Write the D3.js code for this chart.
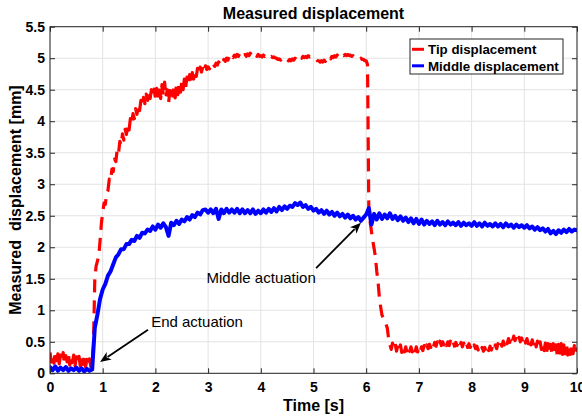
<!DOCTYPE html>
<html>
<head>
<meta charset="utf-8">
<script src="https://cdn.jsdelivr.net/npm/d3@7/dist/d3.min.js"></script>
<style>
  body { margin: 0; background: #fff; }
  svg { display: block; }
</style>
</head>
<body>
<svg id="chart" width="582" height="419"></svg>
<script>
// Sampling intervals of the recorded signals [s]
const tipSampleStep = 0.025;
const middleSampleStep = 0.05;

// Tip displacement [mm], one value per sample from 0 s to 10 s
const tipDisplacement = [
  0.33,0.18,0.30,0.16,0.35,0.20,0.31,0.15,0.29,0.19,0.33,0.14,0.28,0.18,0.30,0.13,0.27,0.17,0.29,0.12,
  0.26,0.16,0.27,0.11,0.24,0.14,0.25,0.10,0.22,0.13,0.23,0.10,0.16,0.45,1.50,1.70,1.78,1.86,2.10,2.38,
  2.55,2.70,2.68,2.86,2.90,3.08,3.05,3.24,3.20,3.40,3.36,3.55,3.49,3.68,3.62,3.80,3.70,3.87,3.79,3.95,
  3.86,4.04,3.96,4.12,4.04,4.20,4.11,4.26,4.17,4.33,4.24,4.38,4.28,4.43,4.33,4.47,4.36,4.50,4.39,4.51,
  4.37,4.52,4.40,4.55,4.36,4.58,4.42,4.62,4.38,4.50,4.29,4.48,4.56,4.40,4.52,4.37,4.58,4.42,4.60,4.46,
  4.63,4.50,4.67,4.54,4.70,4.58,4.74,4.63,4.77,4.67,4.81,4.71,4.84,4.75,4.86,4.78,4.87,4.80,4.88,4.82,
  4.86,4.83,4.88,4.85,4.90,4.87,4.92,4.89,4.94,4.91,4.96,4.93,4.98,4.95,5.00,4.97,5.02,4.99,5.04,5.01,
  5.05,5.02,5.06,5.03,5.07,5.04,5.07,5.04,5.06,5.03,5.07,5.04,5.08,5.05,5.07,5.04,5.06,5.03,5.06,5.03,
  5.04,5.02,5.05,5.03,5.05,5.03,5.04,5.02,5.03,5.01,5.02,5.00,5.00,4.98,4.99,4.97,4.99,4.97,4.98,4.96,
  4.98,4.96,4.98,4.96,4.99,4.97,5.00,4.98,5.01,4.99,5.02,5.00,5.03,5.01,5.03,5.01,5.04,5.02,5.03,5.01,
  5.01,4.99,4.98,4.96,4.96,4.94,4.96,4.94,4.97,4.95,4.99,4.97,5.01,4.99,5.03,5.01,5.04,5.02,5.05,5.03,
  5.05,5.03,5.06,5.04,5.06,5.04,5.06,5.04,5.05,5.03,5.04,5.02,5.02,5.00,5.01,4.99,5.00,4.98,4.98,4.96,
  4.96,4.90,2.55,2.40,2.25,2.10,1.98,1.85,1.62,1.45,1.20,1.05,0.92,0.88,0.82,0.78,0.72,0.55,0.45,0.38,
  0.48,0.40,0.47,0.35,0.44,0.36,0.45,0.33,0.43,0.34,0.42,0.33,0.41,0.35,0.42,0.34,0.41,0.33,0.42,0.34,
  0.40,0.34,0.42,0.36,0.44,0.38,0.45,0.39,0.46,0.41,0.48,0.42,0.49,0.43,0.50,0.44,0.51,0.44,0.50,0.45,
  0.51,0.44,0.50,0.44,0.51,0.45,0.50,0.43,0.49,0.44,0.50,0.43,0.49,0.42,0.48,0.42,0.48,0.41,0.47,0.41,
  0.46,0.40,0.45,0.39,0.43,0.37,0.42,0.36,0.41,0.35,0.41,0.35,0.42,0.36,0.43,0.37,0.44,0.38,0.45,0.39,
  0.47,0.41,0.49,0.43,0.51,0.45,0.53,0.47,0.55,0.49,0.58,0.51,0.59,0.52,0.58,0.51,0.57,0.50,0.56,0.49,
  0.56,0.48,0.55,0.47,0.54,0.45,0.53,0.44,0.52,0.42,0.51,0.40,0.50,0.38,0.49,0.36,0.48,0.34,0.47,0.32,
  0.46,0.30,0.47,0.31,0.45,0.29,0.46,0.32,0.47,0.30,0.45,0.31,0.46,0.29,0.44,0.30,0.45,0.31,0.44,0.32,
  0.41
];

// Middle displacement [mm], one value per sample from 0 s to 10 s
const middleDisplacement = [
  0.10,0.05,0.11,0.04,0.09,0.05,0.10,0.04,0.08,0.05,0.09,0.04,0.08,0.03,0.07,0.04,0.06,0.72,0.93,1.18,
  1.33,1.42,1.55,1.62,1.73,1.84,1.89,1.97,1.97,2.05,2.05,2.12,2.10,2.18,2.15,2.23,2.22,2.28,2.26,2.33,
  2.28,2.36,2.31,2.38,2.32,2.18,2.39,2.35,2.42,2.37,2.44,2.41,2.48,2.44,2.51,2.48,2.55,2.52,2.59,2.60,
  2.55,2.60,2.54,2.61,2.45,2.60,2.54,2.61,2.55,2.60,2.55,2.61,2.54,2.60,2.54,2.59,2.54,2.60,2.53,2.58,
  2.54,2.60,2.55,2.61,2.56,2.62,2.57,2.64,2.59,2.65,2.61,2.66,2.64,2.70,2.67,2.71,2.64,2.67,2.61,2.64,
  2.58,2.61,2.55,2.59,2.53,2.58,2.52,2.56,2.50,2.55,2.49,2.53,2.47,2.52,2.46,2.50,2.44,2.48,2.42,2.47,
  2.52,2.62,2.36,2.53,2.44,2.54,2.45,2.52,2.46,2.54,2.45,2.50,2.43,2.49,2.42,2.47,2.40,2.46,2.38,2.45,
  2.37,2.44,2.36,2.42,2.37,2.41,2.35,2.42,2.36,2.40,2.35,2.41,2.36,2.39,2.35,2.40,2.34,2.39,2.35,2.38,
  2.34,2.40,2.34,2.38,2.33,2.39,2.34,2.37,2.33,2.38,2.33,2.37,2.32,2.38,2.33,2.36,2.31,2.36,2.32,2.35,
  2.31,2.35,2.30,2.33,2.28,2.32,2.27,2.30,2.25,2.29,2.22,2.26,2.21,2.27,2.23,2.28,2.24,2.29,2.25,2.28,
  2.27
];

const seriesNames = ["Tip displacement", "Middle displacement"];
const xTickValues = [0, 1, 2, 3, 4, 5, 6, 7, 8, 9, 10];
const yTickValues = [0, 0.5, 1, 1.5, 2, 2.5, 3, 3.5, 4, 4.5, 5, 5.5];

// ---- drawing ----
const FONT = '"Liberation Sans", Arial, Helvetica, sans-serif';
const AXIS_COLOR = "#262626";
const svg = d3.select("#chart");
const plot = { left: 50, right: 577, top: 26.7, bottom: 373.3 };

const x = d3.scaleLinear().domain([0, 10]).range([plot.left, plot.right]);
const y = d3.scaleLinear().domain([0, 5.5]).range([plot.bottom, plot.top]);

svg.append("rect").attr("width", 582).attr("height", 419).attr("fill", "#fff");

// grid
const grid = svg.append("g").attr("stroke", "#e3e3e3").attr("stroke-width", 1);
grid.selectAll("line.gx").data(xTickValues).join("line")
  .attr("x1", d => x(d)).attr("x2", d => x(d))
  .attr("y1", plot.top).attr("y2", plot.bottom);
grid.selectAll("line.gy").data(yTickValues).join("line")
  .attr("x1", plot.left).attr("x2", plot.right)
  .attr("y1", d => y(d)).attr("y2", d => y(d));

// clip for data
svg.append("clipPath").attr("id", "plotClip").append("rect")
  .attr("x", plot.left).attr("y", plot.top)
  .attr("width", plot.right - plot.left).attr("height", plot.bottom - plot.top);

const toPoints = (arr, step) => arr.map((v, i) => [i * step, v]);
const line = d3.line().x(d => x(d[0])).y(d => y(d[1]));

const dataG = svg.append("g").attr("clip-path", "url(#plotClip)");
dataG.append("path")
  .datum(toPoints(tipDisplacement, tipSampleStep))
  .attr("d", line)
  .attr("fill", "none")
  .attr("stroke", "#ff0000")
  .attr("stroke-width", 3.2)
  .attr("stroke-dasharray", "13,8")
  .attr("stroke-linejoin", "round");
dataG.append("path")
  .datum(toPoints(middleDisplacement, middleSampleStep))
  .attr("d", line)
  .attr("fill", "none")
  .attr("stroke", "#0000ff")
  .attr("stroke-width", 4)
  .attr("stroke-linejoin", "round")
  .attr("stroke-linecap", "round");

// axes (ticks point inward on all four sides)
function styleAxis(g) {
  g.select(".domain").remove();
  g.selectAll(".tick line").attr("stroke", AXIS_COLOR);
  g.selectAll(".tick text")
    .attr("fill", "#000")
    .style("font-family", FONT)
    .style("font-size", "14px")
    .style("font-weight", "bold");
}
svg.append("g").attr("transform", `translate(0,${plot.bottom})`)
  .call(d3.axisBottom(x).tickValues(xTickValues).tickFormat(d3.format("d"))
    .tickSizeInner(-5).tickSizeOuter(0).tickPadding(9))
  .call(styleAxis);
svg.append("g").attr("transform", `translate(0,${plot.top})`)
  .call(d3.axisTop(x).tickValues(xTickValues).tickFormat("")
    .tickSizeInner(-5).tickSizeOuter(0))
  .call(styleAxis);
svg.append("g").attr("transform", `translate(${plot.left},0)`)
  .call(d3.axisLeft(y).tickValues(yTickValues).tickFormat(d => String(d))
    .tickSizeInner(-5).tickSizeOuter(0).tickPadding(5))
  .call(styleAxis);
svg.append("g").attr("transform", `translate(${plot.right},0)`)
  .call(d3.axisRight(y).tickValues(yTickValues).tickFormat("")
    .tickSizeInner(-5).tickSizeOuter(0))
  .call(styleAxis);

// box
svg.append("rect")
  .attr("x", plot.left).attr("y", plot.top)
  .attr("width", plot.right - plot.left).attr("height", plot.bottom - plot.top)
  .attr("fill", "none").attr("stroke", AXIS_COLOR).attr("stroke-width", 1);

// titles
svg.append("text")
  .attr("x", (plot.left + plot.right) / 2).attr("y", 18.5)
  .attr("text-anchor", "middle")
  .style("font-family", FONT).style("font-size", "16px").style("font-weight", "bold")
  .text("Measured displacement");
svg.append("text")
  .attr("x", (plot.left + plot.right) / 2).attr("y", 411)
  .attr("text-anchor", "middle")
  .style("font-family", FONT).style("font-size", "16px").style("font-weight", "bold")
  .text("Time [s]");
svg.append("text")
  .attr("transform", `translate(21,${(plot.top + plot.bottom) / 2}) rotate(-90)`)
  .attr("text-anchor", "middle")
  .style("font-family", FONT).style("font-size", "16px").style("font-weight", "bold")
  .style("white-space", "pre")
  .text("Measured  displacement [mm]");

// annotations with arrows
const annots = [
  { label: "End actuation", at: [1.92, 0.74], tail: [1.86, 0.69], head: [0.95, 0.18] },
  { label: "Middle actuation", at: [2.97, 1.44], tail: [5.05, 1.67], head: [5.90, 2.39] }
];
const annG = svg.append("g");
annots.forEach(a => {
  annG.append("text")
    .attr("x", x(a.at[0])).attr("y", y(a.at[1]))
    .style("font-family", FONT).style("font-size", "15px")
    .attr("fill", "#000")
    .text(a.label);
  const x1 = x(a.tail[0]), y1 = y(a.tail[1]);
  const x2 = x(a.head[0]), y2 = y(a.head[1]);
  const ang = Math.atan2(y2 - y1, x2 - x1);
  const L = 11, W = 4.5;
  const bx = x2 - L * Math.cos(ang), by = y2 - L * Math.sin(ang);
  annG.append("line")
    .attr("x1", x1).attr("y1", y1).attr("x2", bx + 2 * Math.cos(ang)).attr("y2", by + 2 * Math.sin(ang))
    .attr("stroke", "#000").attr("stroke-width", 1.8);
  annG.append("path")
    .attr("d", `M${x2},${y2} L${bx - W * Math.sin(ang)},${by + W * Math.cos(ang)} L${bx + 3 * Math.cos(ang)},${by + 3 * Math.sin(ang)} L${bx + W * Math.sin(ang)},${by - W * Math.cos(ang)} Z`)
    .attr("fill", "#000");
});

// legend
const lg = svg.append("g").attr("transform", "translate(410,39)");
lg.append("rect").attr("width", 153).attr("height", 35)
  .attr("fill", "#fff").attr("stroke", AXIS_COLOR).attr("stroke-width", 1);
const legendColors = ["#ff0000", "#0000ff"];
seriesNames.forEach((name, i) => {
  const cy = 10.3 + i * 16.5;
  lg.append("line").attr("x1", 2).attr("x2", 14).attr("y1", cy).attr("y2", cy)
    .attr("stroke", legendColors[i]).attr("stroke-width", 3);
  lg.append("text").attr("x", 18).attr("y", cy + 4.8)
    .style("font-family", FONT).style("font-size", "13.3px").style("font-weight", "bold")
    .text(name);
});
</script>
</body>
</html>
